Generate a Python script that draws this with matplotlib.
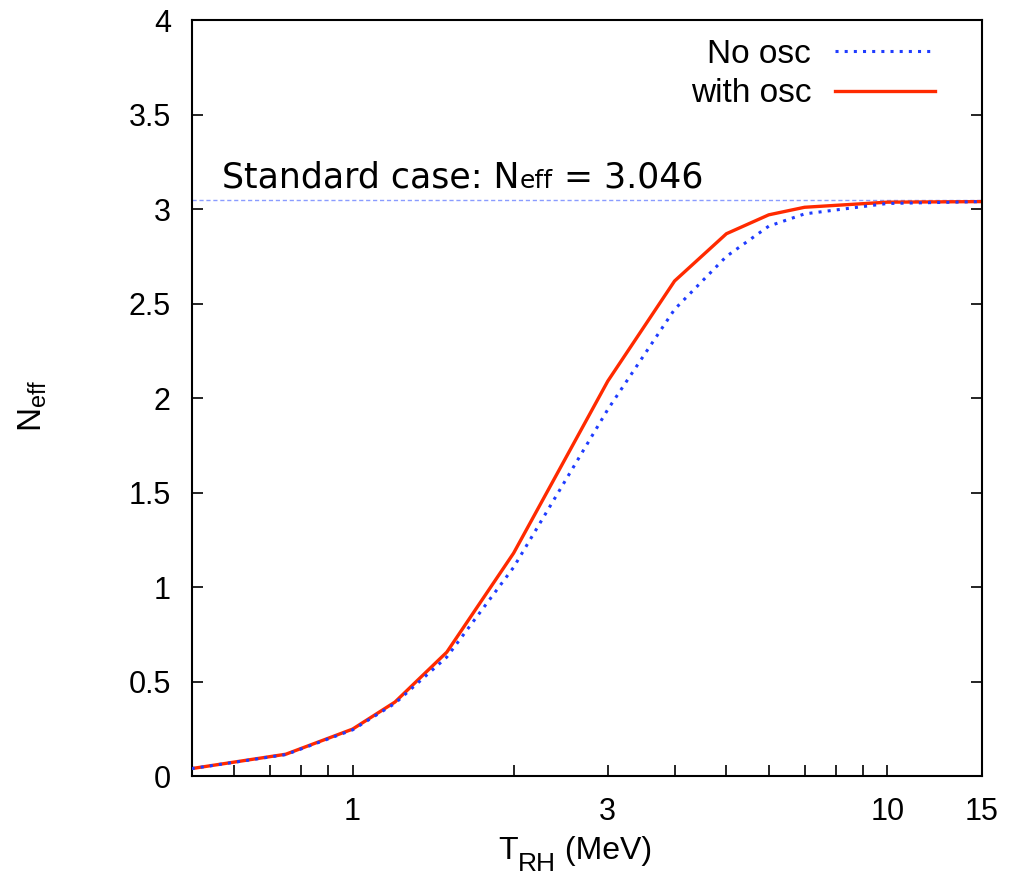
import matplotlib
matplotlib.use('Agg')
import matplotlib.pyplot as plt
from matplotlib.ticker import FixedLocator, FixedFormatter, NullFormatter

# reheating temperature (MeV) and Neff
t_rh = [0.5, 0.75, 1.0, 1.2, 1.5, 2.0, 3.0, 4.0, 5.0, 6.0, 7.0, 10.0, 15.0]
neff_osc = [0.04, 0.116, 0.249, 0.392, 0.656, 1.18, 2.09, 2.62, 2.87, 2.97, 3.01, 3.037, 3.04]
neff_noosc = [0.04, 0.114, 0.245, 0.385, 0.63, 1.105, 1.94, 2.47, 2.75, 2.91, 2.975, 3.03, 3.04]
neff_std = 3.046

xticks_major = [1, 3, 10, 15]
xtick_labels = ['1', '3', '10', '15']
xticks_minor = [0.6, 0.7, 0.8, 0.9, 2, 4, 5, 6, 7, 8, 9]
yticks = [0, 0.5, 1, 1.5, 2, 2.5, 3, 3.5, 4]
ytick_labels = ['0', '0.5', '1', '1.5', '2', '2.5', '3', '3.5', '4']

plt.rcParams['font.family'] = ['Liberation Sans', 'DejaVu Sans']
plt.rcParams['mathtext.fontset'] = 'custom'
plt.rcParams['mathtext.rm'] = 'Liberation Sans'
plt.rcParams['mathtext.it'] = 'Liberation Sans'

fig = plt.figure(figsize=(10.14, 8.77), dpi=100)
ax = fig.add_axes([0.189, 0.115, 0.779, 0.862])

ax.axhline(neff_std, color='#8a9cff', lw=1.0, ls=(0, (3, 2)), zorder=1)
ax.plot(t_rh, neff_noosc, color='#1f3cff', lw=2.2, ls=(0, (1, 2)), label='No osc', zorder=3)
ax.plot(t_rh, neff_osc, color='#ff2a00', lw=2.4, label='with osc', zorder=2)

ax.set_xscale('log')
ax.set_xlim(0.5, 15)
ax.set_ylim(0, 4)

ax.xaxis.set_major_locator(FixedLocator(xticks_major))
ax.xaxis.set_major_formatter(FixedFormatter(xtick_labels))
ax.xaxis.set_minor_locator(FixedLocator(xticks_minor))
ax.xaxis.set_minor_formatter(NullFormatter())
ax.set_yticks(yticks)
ax.set_yticklabels(ytick_labels)

ax.tick_params(axis='both', which='both', direction='in', length=8, width=1.2,
               labelsize=22, top=False, right=True)
ax.tick_params(axis='x', which='major', pad=15)
ax.tick_params(axis='y', which='major', pad=15)
for s in ax.spines.values():
    s.set_linewidth(1.5)

ax.set_ylabel(r'N$_{\rm eff}$', fontsize=24)
ax.yaxis.set_label_coords(-0.18, 0.49)

# x label built from pieces so the subscript stays large, as in the original
x1 = fig.text(498 / 1014, 0.02, 'T', fontsize=23, va='baseline', ha='left')
x2 = ax.annotate('RH', xy=(1, 0), xycoords=x1, xytext=(0, -7), textcoords='offset points',
                 fontsize=19, va='bottom', ha='left', annotation_clip=False)
ax.annotate(' (MeV)', xy=(1, 0), xycoords=x2, xytext=(0, 7), textcoords='offset points',
            fontsize=23, va='bottom', ha='left', annotation_clip=False)

# "Standard case: Neff = 3.046" with small 'eff' on the baseline
t1 = ax.text(0.039, 0.778, 'Standard case: N', transform=ax.transAxes,
             fontsize=25, family='DejaVu Sans', va='baseline', ha='left')
t2 = ax.annotate('eff', xy=(1, 0), xycoords=t1, xytext=(0, 1.7), textcoords='offset points',
                 fontsize=18, family='DejaVu Sans', va='bottom', ha='left')
ax.annotate(' = 3.046', xy=(1, 0), xycoords=t2, xytext=(0, -1.7), textcoords='offset points',
            fontsize=25, family='DejaVu Sans', va='bottom', ha='left')

ax.legend(loc='upper right', bbox_to_anchor=(0.9405, 0.975), frameon=False, markerfirst=False,
          fontsize=24, handlelength=3.0, handletextpad=0.7, labelspacing=0.25,
          borderpad=0, borderaxespad=0)

fig.savefig('out.png', dpi=100)
